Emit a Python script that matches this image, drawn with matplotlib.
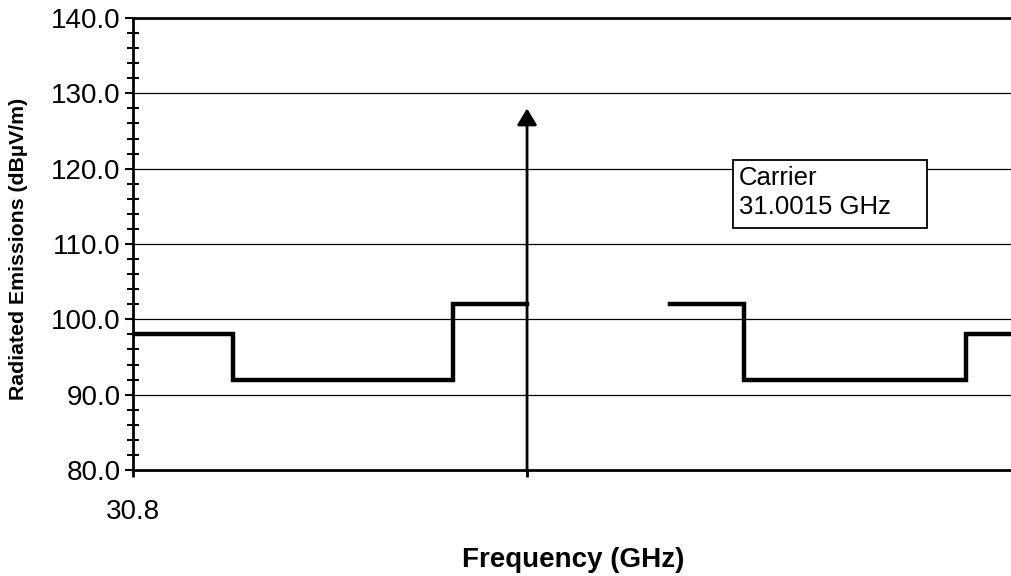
import matplotlib
matplotlib.use("Agg")
import matplotlib.pyplot as plt
from matplotlib.patches import Rectangle
from matplotlib.ticker import MultipleLocator

plt.rcParams['font.family'] = ['Liberation Sans', 'DejaVu Sans']

# Emission mask (step levels), lower and upper segments
lower_freq = [30.8, 30.851, 30.851, 30.9637, 30.9637, 31.0015]
lower_level = [98, 98, 92, 92, 102, 102]
upper_freq = [31.0745, 31.1125, 31.1125, 31.2259, 31.2259, 31.25]
upper_level = [102, 102, 92, 92, 98, 98]

carrier_freq = 31.0015
carrier_level = 128
x_range = (30.8, 31.25)
y_range = (80, 140)

fig = plt.figure(figsize=(10.11, 5.76), dpi=100)
ax = fig.add_axes([133 / 1011, 106 / 576, 880 / 1011, 452 / 576])

# Grid lines
for y in range(90, 140, 10):
    ax.axhline(y, color='black', lw=0.9, zorder=1)

ax.plot(lower_freq, lower_level, color='black', lw=3.2, solid_joinstyle='miter', zorder=3)
ax.plot(upper_freq, upper_level, color='black', lw=3.2, solid_joinstyle='miter', zorder=3)

# Carrier arrow
ax.annotate('', xy=(carrier_freq, carrier_level), xytext=(carrier_freq, y_range[0]),
            arrowprops=dict(arrowstyle='-|>,head_length=1.0,head_width=0.6',
                            color='black', lw=2, shrinkA=0, shrinkB=0), zorder=4)

# Carrier label box
ax.add_patch(Rectangle((31.1068, 112.1), 0.099, 9.05, facecolor='white',
                       edgecolor='black', lw=1.3, zorder=5))
ax.text(31.1099, 120.3, 'Carrier\n31.0015 GHz', fontsize=18.5, va='top', ha='left',
        linespacing=1.25, zorder=6)

ax.set_xlim(*x_range)
ax.set_ylim(*y_range)

ax.yaxis.set_major_locator(MultipleLocator(10))
ax.yaxis.set_minor_locator(MultipleLocator(2))
ax.set_yticklabels([f'{v:.1f}' for v in ax.get_yticks()])
ax.tick_params(axis='y', which='major', direction='out', length=6, width=1.5,
               labelsize=20, pad=3)
ax.tick_params(axis='y', which='minor', direction='inout', length=8.5, width=1.5)

ax.set_xticks([x_range[0], carrier_freq])
ax.set_xticklabels(['30.8', ''])
ax.tick_params(axis='x', which='major', direction='out', length=5, width=2,
               labelsize=20, pad=16)

for side in ['top', 'bottom', 'left']:
    ax.spines[side].set_linewidth(2)
ax.spines['right'].set_visible(False)

ax.set_ylabel('Radiated Emissions (dBµV/m)', fontsize=15.3, fontweight='bold')
ax.yaxis.set_label_coords(-0.119, 0.489)
ax.set_xlabel('Frequency (GHz)', fontsize=20, fontweight='bold', labelpad=16)

fig.savefig('out.png', dpi=100)
